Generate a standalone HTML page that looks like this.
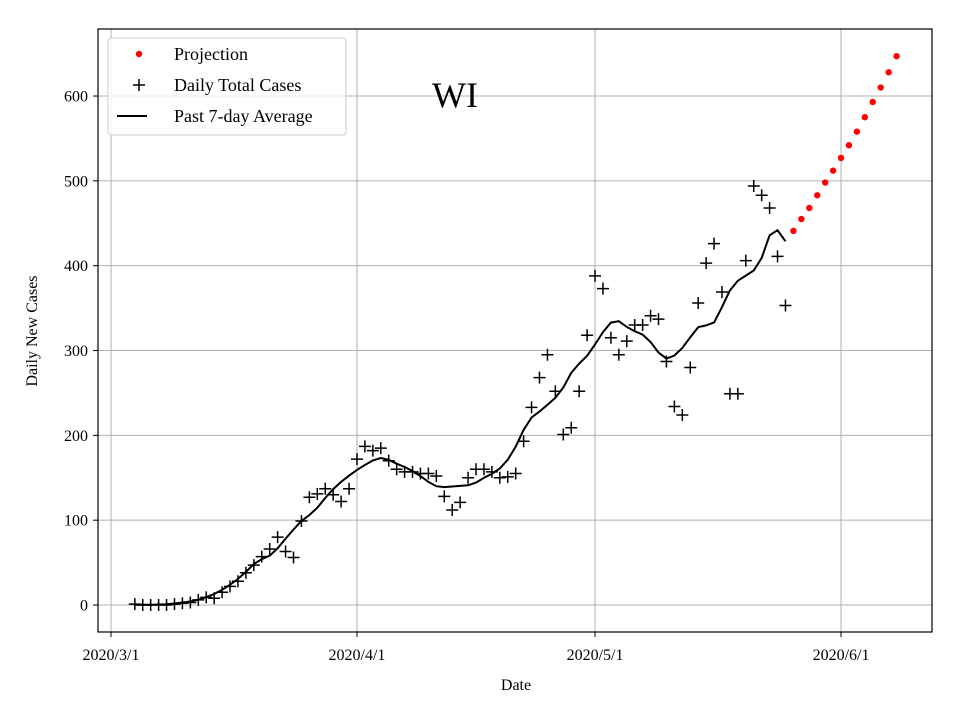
<!DOCTYPE html>
<html><head><meta charset="utf-8"><style>
html,body{margin:0;padding:0;background:#fff;}
svg{display:block;font-family:"Liberation Serif",serif;}
</style></head><body>
<svg id="s" width="960" height="720" xmlns="http://www.w3.org/2000/svg">
<rect width="960" height="720" fill="#fff"/>
<g id="grid" stroke="#b0b0b0" stroke-width="1"></g>
<g id="data"></g>
<rect x="98" y="29" width="834" height="603" fill="none" stroke="#000" stroke-width="1.2"/>
<g id="ticks" font-size="16" fill="#000"></g>
<text x="516" y="690" font-size="16" text-anchor="middle">Date</text>
<text transform="translate(37,331) rotate(-90)" font-size="16" text-anchor="middle">Daily New Cases</text>
<text x="455" y="107" font-size="36" text-anchor="middle">WI</text>
<g>
<rect x="108" y="38" width="238" height="97" rx="3" fill="#fff" fill-opacity="0.8" stroke="#ccc"/>
<circle cx="139" cy="54" r="3.2" fill="#f00"/>
<path d="M133 85h12M139 79v12" stroke="#000" stroke-width="1.5"/>
<path d="M117 116h30" stroke="#000" stroke-width="2"/>
<text x="174" y="60" font-size="18">Projection</text>
<text x="174" y="91" font-size="18">Daily Total Cases</text>
<text x="174" y="122" font-size="18">Past 7-day Average</text>
</g>
</svg>
<script>
var ns="http://www.w3.org/2000/svg";
function X(d){return 111+7.935*d;}
function Y(v){return 605-v*0.8483;}
function el(p,t,a,txt){var e=document.createElementNS(ns,t);for(var k in a)e.setAttribute(k,a[k]);if(txt!=null)e.textContent=txt;p.appendChild(e);return e;}
var g=document.getElementById('grid'),tk=document.getElementById('ticks'),dg=document.getElementById('data');
var xt=[[0,"2020/3/1"],[31,"2020/4/1"],[61,"2020/5/1"],[92,"2020/6/1"]];
xt.forEach(function(t){var x=X(t[0]);el(g,'line',{x1:x,x2:x,y1:29,y2:632});el(tk,'line',{x1:x,x2:x,y1:632,y2:637,stroke:'#000'});el(tk,'text',{x:x,y:660,'text-anchor':'middle'},t[1]);});
for(var v=0;v<=600;v+=100){var y=Y(v);el(g,'line',{x1:98,x2:932,y1:y,y2:y});el(tk,'line',{x1:93,x2:98,y1:y,y2:y,stroke:'#000'});el(tk,'text',{x:88,y:y+5.5,'text-anchor':'end'},v);}
var vals=[1,0,0,0,0,1,2,3,6,9,8,15,22,28,38,47,57,66,80,63,56,99,127,131,137,130,122,137,172,187,182,185,170,160,157,157,155,155,152,128,112,121,150,160,160,157,150,151,155,193,233,268,295,252,201,209,252,318,388,373,315,295,311,330,330,341,337,287,234,224,280,356,403,426,369,249,249,406,494,483,468,411,353];
var pts=[];
for(var i=0;i<vals.length;i++){var s=0,n=0;for(var j=i-3;j<=i+3;j++){if(j>=0&&j<vals.length){s+=vals[j];n++;}}pts.push(X(i+3).toFixed(1)+","+Y(s/n).toFixed(1));}
el(dg,'polyline',{points:pts.join(' '),fill:'none',stroke:'#000','stroke-width':2});
vals.forEach(function(v,i){var x=X(i+3),y=Y(v);el(dg,'path',{d:'M'+(x-6)+' '+y+'h12M'+x+' '+(y-6)+'v12',stroke:'#000','stroke-width':1.5});});
var proj=[441,455,468,483,498,512,527,542,558,575,593,610,628,647];
proj.forEach(function(v,i){el(dg,'circle',{cx:X(86+i),cy:Y(v),r:3.2,fill:'#f00'});});
</script>
</body></html>
